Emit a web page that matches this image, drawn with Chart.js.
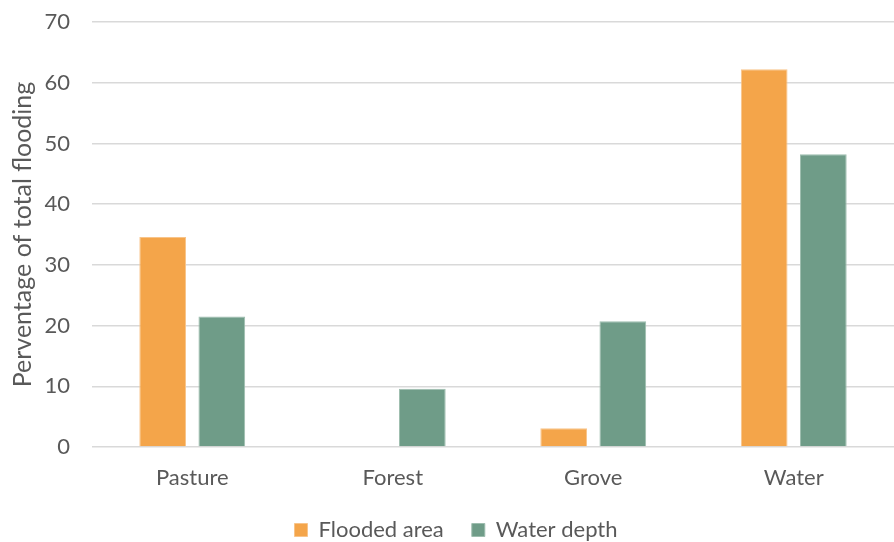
<!DOCTYPE html>
<html>
<head>
<meta charset="utf-8">
<script src="https://cdn.jsdelivr.net/npm/chart.js@4"></script>
<style>
    html, body { margin: 0; padding: 0; background: #fff; }
    #wrap { width: 894px; height: 542px; }
</style>
</head>
<body>
<div id="wrap"><canvas id="floodChart" width="894" height="542"></canvas></div>
<script>
// Land cover classes and their share of total flooding (%)
const landCover = ['Pasture', 'Forest', 'Grove', 'Water'];
const floodedArea = [34.6, 0, 3.1, 62.2];
const waterDepth = [21.5, 9.6, 20.7, 48.2];
const yTicks = [0, 10, 20, 30, 40, 50, 60, 70];

const textGray = '#595959';
const baseFont = { family: 'Lato, "Open Sans", sans-serif', size: 22 };

// nudge the legend a bit to the right of the canvas centre
const legendShift = {
    id: 'legendShift',
    afterUpdate(c) {
        c.legend.left += 9;
        c.legend.right += 9;
    }
};

const ctx = document.getElementById('floodChart').getContext('2d');
const chart = new Chart(ctx, {
    type: 'bar',
    data: {
        labels: landCover,
        datasets: [{
            label: 'Flooded area',
            data: floodedArea,
            backgroundColor: '#F4A54A',
            borderColor: '#F8C48A',
            borderWidth: 1
        }, {
            label: 'Water depth',
            data: waterDepth,
            backgroundColor: '#6F9C88',
            borderColor: '#9DBDAE',
            borderWidth: 1
        }]
    },
    plugins: [legendShift],
    options: {
        responsive: false,
        animation: false,
        categoryPercentage: 0.59,
        barPercentage: 0.79,
        // legend sits a little lower than chart.js puts it by default
        layout: { padding: { top: 22, right: 0, left: 0, bottom: -9 } },
        plugins: {
            tooltip: { enabled: false },
            legend: {
                position: 'bottom',
                labels: {
                    color: textGray,
                    font: baseFont,
                    boxWidth: 13,
                    boxHeight: 13,
                    padding: 28
                }
            }
        },
        scales: {
            x: {
                grid: { display: false },
                border: { display: false },
                ticks: { color: textGray, font: baseFont, padding: 10 },
                afterFit: (s) => { s.height = 44; }
            },
            y: {
                min: 0,
                max: 70,
                afterBuildTicks: (s) => { s.ticks = yTicks.map(v => ({ value: v })); },
                // invisible tick marks keep the gap between labels and gridlines
                grid: { color: '#D9D9D9', lineWidth: 1.5, drawTicks: true, tickLength: 20, tickColor: 'rgba(0,0,0,0)' },
                border: { display: false },
                ticks: { color: textGray, font: baseFont, padding: 2 },
                title: {
                    display: true,
                    text: 'Perventage of total flooding',
                    color: textGray,
                    font: { family: baseFont.family, size: 25 },
                    padding: { top: 8, bottom: 0 }
                },
                afterFit: (s) => { s.width = 92; }
            }
        }
    }
});
</script>
</body>
</html>
